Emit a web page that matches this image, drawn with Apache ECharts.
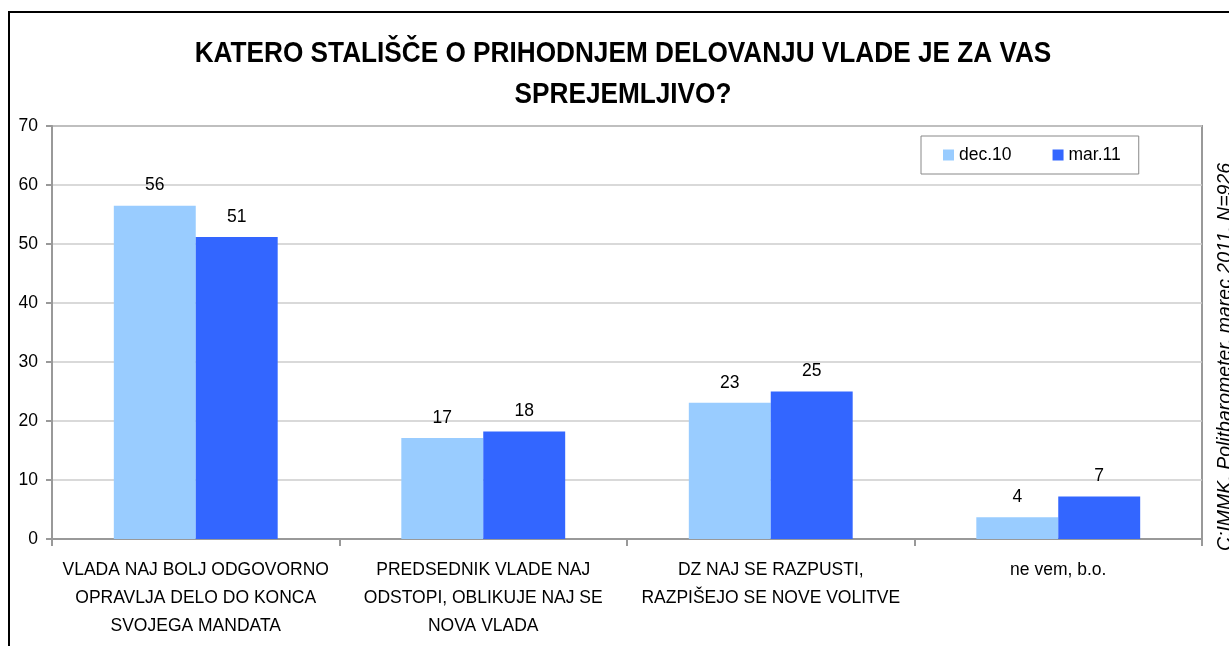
<!DOCTYPE html>
<html>
<head>
<meta charset="utf-8">
<script src="https://cdn.jsdelivr.net/npm/echarts@6/dist/echarts.min.js"></script>
<style>
html,body{margin:0;padding:0;background:#fff;}
#chart{width:1229px;height:646px;}
</style>
</head>
<body>
<div id="chart"></div>
<script>
const titleText = 'KATERO STALIŠČE O PRIHODNJEM DELOVANJU VLADE JE ZA VAS\nSPREJEMLJIVO?';
const categories = [
  'VLADA NAJ BOLJ ODGOVORNO\nOPRAVLJA DELO DO KONCA\nSVOJEGA MANDATA',
  'PREDSEDNIK VLADE NAJ\nODSTOPI, OBLIKUJE NAJ SE\nNOVA VLADA',
  'DZ NAJ SE RAZPUSTI,\nRAZPIŠEJO SE NOVE VOLITVE',
  'ne vem, b.o.'
];
const seriesNames = ['dec.10', 'mar.11'];
const dec10 = [56.5, 17.1, 23.1, 3.7];
const mar11 = [51.2, 18.2, 25.0, 7.2];
const dec10Labels = ['56', '17', '23', '4'];
const mar11Labels = ['51', '18', '25', '7'];
const yTicks = [0, 10, 20, 30, 40, 50, 60, 70];
const sourceNote = 'C:IMMK, Politbarometer, marec 2011, N=926';

const FONT = '"Liberation Sans", Arial, sans-serif';
const FS = 17.5;

const chart = echarts.init(document.getElementById('chart'), null, {renderer: 'canvas'});
chart.setOption({
  backgroundColor: '#fff',
  animation: false,
  legend: {
    data: seriesNames,
    left: 921,
    top: 136,
    padding: [10, 18, 10, 22],
    itemGap: 41,
    itemWidth: 11,
    itemHeight: 11,
    icon: 'rect',
    borderColor: '#888',
    borderWidth: 1,
    textStyle: {fontFamily: FONT, fontSize: FS, color: '#000'}
  },
  grid: {
    left: 52, right: 27, top: 126, bottom: 107,
    show: true, borderColor: '#999', borderWidth: 2, backgroundColor: '#fff'
  },
  xAxis: {
    type: 'category',
    data: categories,
    axisLine: {lineStyle: {color: '#999', width: 2}},
    axisTick: {show: true, length: 7, lineStyle: {color: '#999', width: 2}},
    axisLabel: {
      interval: 0, margin: 17,
      fontFamily: FONT, fontSize: FS, lineHeight: 28, color: '#000', align: 'center'
    }
  },
  yAxis: {
    type: 'value',
    min: yTicks[0], max: yTicks[yTicks.length - 1], interval: 10,
    axisLine: {show: true, lineStyle: {color: '#999', width: 2}},
    axisTick: {show: true, length: 6, lineStyle: {color: '#999', width: 2}},
    splitLine: {lineStyle: {color: '#ccc', width: 1.5}},
    axisLabel: {margin: 14, fontFamily: FONT, fontSize: FS, color: '#000'}
  },
  series: [
    {
      name: seriesNames[0], type: 'bar', data: dec10,
      barCategoryGap: '43%', barGap: '0%',
      itemStyle: {color: '#99CCFF'},
      label: {show: true, position: 'top', distance: 11,
        fontFamily: FONT, fontSize: FS, color: '#000',
        formatter: p => dec10Labels[p.dataIndex]}
    },
    {
      name: seriesNames[1], type: 'bar', data: mar11,
      barCategoryGap: '43%', barGap: '0%',
      itemStyle: {color: '#3366FF'},
      label: {show: true, position: 'top', distance: 11,
        fontFamily: FONT, fontSize: FS, color: '#000',
        formatter: p => mar11Labels[p.dataIndex]}
    }
  ],
  graphic: [
    {
      type: 'rect', z: 100, silent: true,
      shape: {x: 9, y: 12, width: 1300, height: 800},
      style: {fill: 'none', stroke: '#000', lineWidth: 2}
    },
    {
      type: 'text', z: 100, silent: true,
      x: 623, y: 33, scaleX: 0.873,
      style: {
        text: titleText, fontFamily: FONT, fontWeight: 'bold',
        fontSize: 30, lineHeight: 41, fill: '#000', align: 'center', verticalAlign: 'top'
      }
    },
    {
      type: 'text', z: 100, silent: true,
      x: 1236, y: 357, rotation: Math.PI / 2,
      style: {
        text: sourceNote, fontFamily: FONT, fontStyle: 'italic',
        fontSize: 19.5, fill: '#000', align: 'center', verticalAlign: 'bottom'
      }
    }
  ]
});
</script>
</body>
</html>
